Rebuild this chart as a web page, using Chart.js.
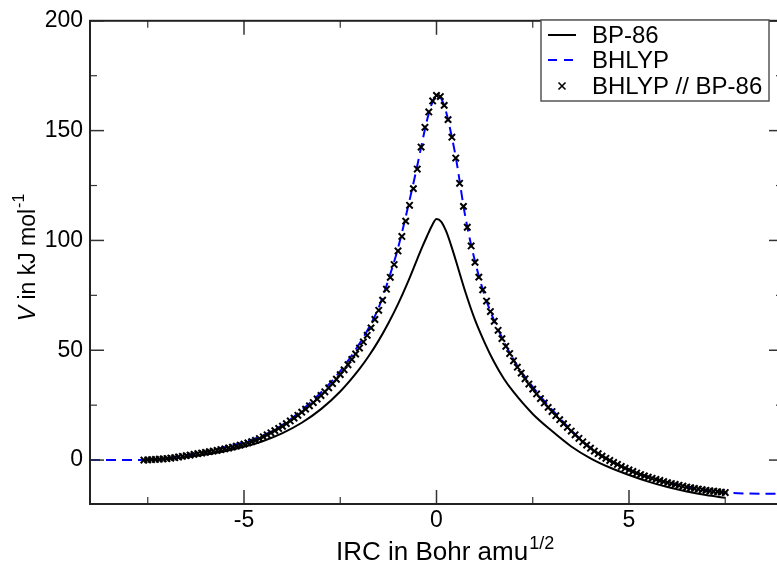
<!DOCTYPE html>
<html><head><meta charset="utf-8">
<script src="https://cdn.jsdelivr.net/npm/chart.js@4/dist/chart.umd.min.js"></script>
<style>html,body{margin:0;padding:0;overflow:hidden;background:#fff}
#wrap{position:absolute;left:0;top:0;width:790px;height:567px}</style>
</head><body><div id="wrap"><canvas id="c"></canvas></div>
<script>
const FONT = "'Liberation Sans', Arial, Helvetica, sans-serif";
const seriesNames = ['BP-86', 'BHLYP', 'BHLYP // BP-86'];

const bp86X = [-7.6,-7,-6.5,-6,-5.5,-5,-4.5,-4,-3.5,-3,-2.5,-2,-1.75,-1.5,-1.25,-1,-0.75,-0.5,-0.375,-0.25,-0.125,0,0.125,0.25,0.375,0.5,0.75,1,1.25,1.5,1.75,2,2.5,3,3.5,4,4.5,5,5.5,6,6.5,7,7.5];
const bp86V = [0,0.5,1.3,2.5,4.0,6.0,8.7,12.3,17.0,23.2,31.2,41.5,47.6,54.5,62.3,71.0,80.8,91.5,96.8,101.8,106.5,109.8,108.5,104.2,98.0,91.0,76.5,63.8,53.5,44.5,37.0,31.0,21.0,13.2,6.2,0.8,-3.4,-6.8,-9.8,-12.3,-14.3,-15.9,-17.2];

const bhlypX = [-9,-8.5,-8,-7.5,-7,-6.5,-6,-5.5,-5,-4.5,-4,-3.5,-3,-2.5,-2,-1.75,-1.5,-1.25,-1,-0.75,-0.5,-0.375,-0.25,-0.125,0,0.125,0.25,0.375,0.5,0.75,1,1.25,1.5,2,2.5,3,3.5,4,4.5,5,5.5,6,6.5,7,7.5,8,8.5,9];
const bhlypV = [0,0,0,0.2,0.8,2.2,3.9,5.8,8.2,11.3,16.0,22.8,30.8,40.5,53.0,60.5,69.5,82.0,96.5,114.5,134.0,144.5,154.5,162.0,166.0,164.5,158.5,149,138,110.7,90.5,75,63.5,45.8,33.3,23,13.6,5.6,-0.1,-4.4,-7.7,-10.3,-12.3,-13.8,-14.8,-15.2,-15.3,-15.3];

const crossX = [-7.6,-7.5,-7.4,-7.3,-7.2,-7.1,-7.0,-6.9,-6.8,-6.7,-6.6,-6.5,-6.4,-6.3,-6.2,-6.1,-6.0,-5.9,-5.8,-5.7,-5.6,-5.5,-5.4,-5.3,-5.2,-5.1,-5.0,-4.9,-4.8,-4.7,-4.6,-4.5,-4.4,-4.3,-4.2,-4.1,-4.0,-3.9,-3.8,-3.7,-3.6,-3.5,-3.4,-3.3,-3.2,-3.1,-3.0,-2.9,-2.8,-2.7,-2.6,-2.5,-2.4,-2.3,-2.2,-2.1,-2.0,-1.9,-1.8,-1.7,-1.6,-1.5,-1.4,-1.3,-1.2,-1.1,-1.0,-0.9,-0.8,-0.7,-0.6,-0.5,-0.4,-0.3,-0.2,-0.1,0.0,0.1,0.2,0.3,0.4,0.5,0.6,0.7,0.8,0.9,1.0,1.1,1.2,1.3,1.4,1.5,1.6,1.7,1.8,1.9,2.0,2.1,2.2,2.3,2.4,2.5,2.6,2.7,2.8,2.9,3.0,3.1,3.2,3.3,3.4,3.5,3.6,3.7,3.8,3.9,4.0,4.1,4.2,4.3,4.4,4.5,4.6,4.7,4.8,4.9,5.0,5.1,5.2,5.3,5.4,5.5,5.6,5.7,5.8,5.9,6.0,6.1,6.2,6.3,6.4,6.5,6.6,6.7,6.8,6.9,7.0,7.1,7.2,7.3,7.4,7.5];
const crossV = [0.0,0.1,0.2,0.3,0.4,0.5,0.7,0.9,1.1,1.4,1.7,2.0,2.3,2.6,2.9,3.2,3.5,3.8,4.1,4.4,4.8,5.1,5.5,5.9,6.3,6.8,7.3,7.8,8.4,9.0,9.8,10.6,11.5,12.4,13.4,14.4,15.4,16.6,17.8,19.1,20.4,21.8,23.2,24.7,26.2,27.8,29.4,31.1,32.9,34.8,36.8,38.9,41.1,43.4,45.8,48.3,51.0,53.8,56.8,60.2,64.0,68.2,72.8,77.8,83.2,89.0,95.2,101.8,108.8,116.0,123.6,132.5,142.5,151.5,158.5,163.5,166.0,165.5,161.5,155.0,147.0,137.5,126.0,115.5,106.0,97.5,90.0,83.3,77.5,72.4,67.6,63.2,59.1,55.3,51.8,48.5,45.2,42.3,39.6,37.0,34.6,32.3,30.1,28.0,26.0,24.0,22.1,20.2,18.4,16.6,14.9,13.2,11.5,9.9,8.3,6.8,5.4,4.1,2.9,1.8,0.8,-0.2,-1.1,-2.0,-2.9,-3.7,-4.5,-5.2,-5.9,-6.6,-7.2,-7.8,-8.3,-8.8,-9.3,-9.8,-10.3,-10.7,-11.1,-11.5,-11.9,-12.3,-12.6,-12.9,-13.2,-13.5,-13.8,-14.0,-14.2,-14.4,-14.6,-14.8];

const xTicks = [-5, 0, 5];
const xMinor = [-7.5, -2.5, 2.5, 7.5];
const yTicks = [0, 50, 100, 150, 200];
const yMinor = [25, 75, 125, 175];

const pairs = (xs, vs) => xs.map((x, i) => ({x: x, y: vs[i]}));

const decor = {
  id: 'decor',
  afterDraw(chart) {
    const ctx = chart.ctx, a = chart.chartArea;
    const xs = chart.scales.x, ys = chart.scales.y;
    ctx.save();
    ctx.strokeStyle = '#333';
    const tick = (x1, y1, x2, y2, w) => { ctx.lineWidth = w; ctx.beginPath(); ctx.moveTo(x1, y1); ctx.lineTo(x2, y2); ctx.stroke(); };
    xTicks.forEach(v => { const p = xs.getPixelForValue(v); tick(p, a.bottom, p, a.bottom - 14, 1.5); tick(p, a.top, p, a.top + 14, 1.5); });
    xMinor.forEach(v => { const p = xs.getPixelForValue(v); tick(p, a.bottom, p, a.bottom - 7, 1.2); tick(p, a.top, p, a.top + 7, 1.2); });
    yTicks.forEach(v => { const p = ys.getPixelForValue(v); tick(a.left, p, a.left + 14, p, 1.5); tick(a.right, p, a.right - 14, p, 1.5); });
    yMinor.forEach(v => { const p = ys.getPixelForValue(v); tick(a.left, p, a.left + 7, p, 1.2); tick(a.right, p, a.right - 7, p, 1.2); });
    ctx.strokeStyle = '#222';
    ctx.lineWidth = 2;
    ctx.strokeRect(a.left, a.top, a.right - a.left, a.bottom - a.top);

    // legend
    const lx = 541, ly = 20, lw = 228, lh = 81;
    ctx.fillStyle = '#fff';
    ctx.fillRect(lx, ly, lw, lh);
    ctx.strokeStyle = '#555';
    ctx.lineWidth = 1.5;
    ctx.strokeRect(lx, ly, lw, lh);
    const rows = [35, 60, 86];
    ctx.font = '24px ' + FONT;
    ctx.fillStyle = '#000';
    ctx.textBaseline = 'middle';
    ctx.textAlign = 'left';
    seriesNames.forEach((n, i) => ctx.fillText(n, 592, rows[i] + 1));
    ctx.strokeStyle = '#000'; ctx.lineWidth = 2;
    ctx.beginPath(); ctx.moveTo(548, rows[0]); ctx.lineTo(576, rows[0]); ctx.stroke();
    ctx.strokeStyle = '#0000ff'; ctx.setLineDash([9, 7]);
    ctx.beginPath(); ctx.moveTo(548, rows[1]); ctx.lineTo(576, rows[1]); ctx.stroke();
    ctx.setLineDash([]);
    ctx.strokeStyle = '#000'; ctx.lineWidth = 1.6;
    const cx = 562, cy = rows[2], r = 3.5;
    ctx.beginPath(); ctx.moveTo(cx - r, cy - r); ctx.lineTo(cx + r, cy + r); ctx.moveTo(cx - r, cy + r); ctx.lineTo(cx + r, cy - r); ctx.stroke();

    // x title
    const mainX = 'IRC in Bohr amu', supX = '1/2';
    ctx.font = '26px ' + FONT;
    const w1 = ctx.measureText(mainX).width;
    const sx = 336;
    ctx.textBaseline = 'alphabetic';
    ctx.fillText(mainX, sx, 560);
    ctx.font = '18px ' + FONT;
    ctx.fillText(supX, sx + w1 + 1, 549);

    // y title
    ctx.translate(35, 258);
    ctx.rotate(-Math.PI / 2);
    ctx.font = 'italic 23px ' + FONT;
    const wv = ctx.measureText('V').width;
    ctx.font = '23px ' + FONT;
    const wm = ctx.measureText(' in kJ mol').width;
    ctx.font = '16px ' + FONT;
    const ws = ctx.measureText('-1').width;
    let px = -(wv + wm + ws) / 2;
    ctx.font = 'italic 23px ' + FONT;
    ctx.fillText('V', px, 0);
    px += wv;
    ctx.font = '23px ' + FONT;
    ctx.fillText(' in kJ mol', px, 0);
    px += wm;
    ctx.font = '16px ' + FONT;
    ctx.fillText('-1', px + 1, -11);
    ctx.restore();
  }
};

new Chart(document.getElementById('c'), {
  type: 'scatter',
  data: {
    datasets: [
      { label: seriesNames[2], data: pairs(crossX, crossV), showLine: false, pointStyle: 'crossRot', pointRadius: 4.5, pointHoverRadius: 4.5, borderColor: '#000', backgroundColor: '#000', pointBorderWidth: 2, order: 0 },
      { label: seriesNames[1], data: pairs(bhlypX, bhlypV), showLine: true, borderColor: '#0000ff', borderWidth: 2, borderDash: [10, 6], pointRadius: 0, cubicInterpolationMode: 'monotone', order: 1 },
      { label: seriesNames[0], data: pairs(bp86X, bp86V), showLine: true, borderColor: '#000', borderWidth: 2, pointRadius: 0, cubicInterpolationMode: 'monotone', order: 2 }
    ]
  },
  options: {
    responsive: true, maintainAspectRatio: false, animation: false,
    layout: { padding: { top: 19, right: 7, left: 0, bottom: 0 } },
    plugins: { legend: { display: false }, tooltip: { enabled: false } },
    scales: {
      x: {
        type: 'linear', min: -9, max: 9, position: 'bottom',
        grid: { display: false, drawTicks: false }, border: { display: false },
        ticks: { color: '#000', font: { family: FONT, size: 23 }, padding: 3, maxRotation: 0 },
        afterBuildTicks: s => { s.ticks = xTicks.map(v => ({ value: v })); },
        afterFit: s => { s.height = 63; }
      },
      y: {
        type: 'linear', min: -20, max: 200,
        grid: { display: false, drawTicks: false }, border: { display: false },
        ticks: { color: '#000', font: { family: FONT, size: 23 }, padding: 7 },
        afterBuildTicks: s => { s.ticks = yTicks.map(v => ({ value: v })); },
        afterFit: s => { s.width = 90; }
      }
    }
  },
  plugins: [decor]
});
</script>
</body></html>
